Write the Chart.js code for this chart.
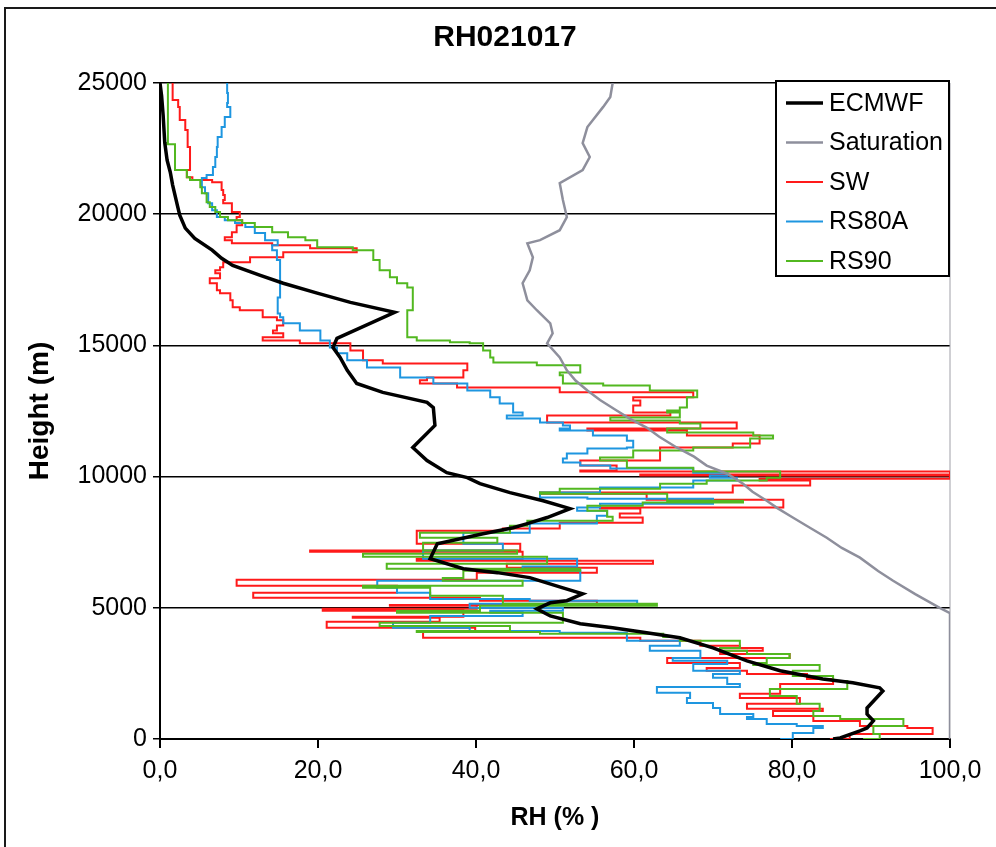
<!DOCTYPE html>
<html>
<head>
<meta charset="utf-8">
<title>RH021017</title>
<script src="https://cdn.jsdelivr.net/npm/chart.js@4.4.0/dist/chart.umd.min.js"></script>
<style>
    html, body { margin: 0; padding: 0; background: #fff; }
    #wrap { width: 996px; height: 847px; }
</style>
</head>
<body>
<div id="wrap"><canvas id="rhChart" width="996" height="847"></canvas></div>
<script>
// [RH %, height m]
const ecmwf = [[0.0,25000],[0.2,24520],[0.4,23760],[0.6,22730],[0.9,22060],[1.3,21600],[1.6,21110],[2.2,20340],[2.5,19960],[3.2,19470],[4.4,19080],[6.6,18630],[7.8,18320],[9.2,18050],[12.7,17670],[15.6,17370],[19.9,16990],[24.1,16640],[29.7,16260],[22.4,15270],[21.9,14920],[22.8,14540],[23.7,14050],[24.9,13550],[28.2,13210],[33.8,12830],[34.6,12630],[34.8,11950],[32.0,11110],[33.8,10610],[36.3,10150],[38.9,9960],[40.5,9730],[44.3,9390],[48.5,9080],[51.9,8780],[49.0,8440],[46.5,8210],[44.7,8050],[40.9,7820],[35.1,7440],[34.2,6870],[38.4,6490],[42.7,6340],[46.8,6150],[51.0,5760],[53.5,5530],[51.5,5270],[49.4,5190],[47.7,4960],[49.4,4690],[53.2,4390],[57.3,4240],[61.6,4050],[65.8,3860],[70.0,3470],[74.3,2980],[78.5,2600],[83.9,2290],[87.7,2140],[91.1,1950],[91.5,1830],[89.5,1180],[89.5,950],[90.3,690],[89.5,420],[88.6,310],[86.1,40],[85.2,0]];

const saturation = [[100,0],[100,4800],[98.7,5000],[95.6,5520],[92.8,6030],[90.9,6400],[88.6,6910],[86.3,7280],[84.4,7670],[82.0,8100],[80.1,8440],[78.2,8790],[76.8,9080],[75.0,9420],[73.8,9730],[71.8,10110],[69.2,10420],[67.6,10760],[65.4,11110],[63.2,11520],[61.6,11870],[59.5,12200],[57.8,12520],[55.7,12920],[54.1,13280],[52.6,13660],[51.5,14050],[50.6,14540],[49.0,15080],[49.7,15460],[49.4,15840],[47.7,16340],[46.5,16720],[45.9,17370],[46.8,17860],[47.2,18360],[46.5,18890],[48.1,19010],[50.6,19390],[51.5,19890],[51.0,20540],[50.6,21180],[53.5,21680],[54.4,22180],[53.5,22710],[54.1,23320],[54.8,23590],[56.1,24090],[57.0,24470],[57.3,25000]];

const sw = [[1.6,25000],[1.6,24620],[2.3,24350],[2.5,24090],[3.2,23590],[3.5,23210],[3.8,22560],[3.8,22060],[3.4,21680],[4.1,21410],[6.6,21300],[7.8,21220],[8.0,20920],[8.2,20730],[8.0,20540],[9.1,20420],[10.1,20080],[9.7,19890],[10.4,19770],[9.7,19580],[9.1,19310],[8.2,19120],[9.1,19010],[14.2,18890],[19.0,18820],[24.9,18700],[15.6,18550],[11.4,18360],[8.0,18170],[7.6,17980],[7.0,17860],[7.6,17750],[6.3,17560],[7.2,17370],[7.6,17100],[8.9,16990],[9.2,16720],[10.1,16450],[13.0,16340],[14.8,16070],[15.6,15960],[14.8,15760],[14.3,15570],[15.6,15460],[13.0,15310],[17.7,15190],[24.1,15080],[25.7,14810],[28.2,14430],[38.9,14310],[38.4,14050],[33.8,13780],[32.9,13670],[37.6,13550],[50.6,13400],[67.5,13210],[59.9,13020],[60.8,12900],[59.9,12710],[64.6,12440],[49.0,12330],[73.0,12060],[54.1,11830],[66.7,11760],[75.9,11570],[72.5,11260],[63.3,11110],[53.2,10610],[57.8,10420],[53.2,10230],[100,10190],[100,10110],[60.8,10080],[100,10040],[100,9960],[75.9,9920],[82.3,9850],[72.5,9660],[48.1,9390],[61.6,9350],[78.9,9120],[55.7,8820],[60.8,8780],[58.2,8590],[61.1,8440],[50.6,8240],[43.4,8020],[32.5,7940],[45.6,7440],[19.0,7180],[45.9,7140],[32.5,6870],[62.4,6790],[43.9,6680],[55.3,6530],[40.1,6340],[9.7,6070],[30.0,5840],[11.8,5570],[40.5,5380],[55.3,5270],[29.1,5110],[40.1,5080],[20.6,4960],[38.4,4890],[24.4,4660],[35.4,4620],[21.1,4470],[39.9,4240],[33.3,4120],[60.8,3860],[68.4,3740],[73.4,3550],[76.3,3470],[70.9,3360],[79.7,3240],[64.2,3090],[73.4,2900],[69.2,2710],[74.3,2600],[81.9,2480],[85.2,2290],[78.5,2100],[73.4,1720],[81.0,1560],[74.3,1340],[83.9,1150],[77.6,1070],[82.7,880],[88.6,690],[94.6,500],[97.8,420],[87.3,190],[84.8,0]];

const rs80a = [[8.5,25000],[8.6,24620],[8.5,24240],[8.9,24090],[8.2,23700],[7.8,23320],[7.3,22940],[7.2,22560],[7.0,22180],[6.7,21800],[5.9,21490],[5.3,21380],[5.7,21030],[6.1,20800],[6.6,20420],[7.2,20150],[8.2,19890],[9.5,19770],[10.8,19660],[12.0,19510],[13.3,19280],[14.9,19010],[14.2,18820],[14.8,18630],[15.2,18250],[15.2,17480],[14.9,16830],[15.2,16220],[15.6,16070],[17.7,15840],[20.3,15570],[21.5,15190],[22.4,14920],[23.7,14700],[26.2,14430],[30.4,14160],[34.6,13780],[38.9,13550],[41.8,13280],[43.0,13020],[44.7,12790],[45.9,12440],[43.9,12330],[48.1,12210],[51.0,12060],[51.9,11950],[50.6,11830],[54.8,11760],[59.1,11570],[59.9,11370],[59.1,11110],[54.1,11070],[51.5,10880],[51.0,10690],[53.2,10540],[57.0,10420],[67.5,10310],[71.8,10150],[69.6,10040],[73.0,9960],[67.5,9850],[55.7,9580],[48.1,9390],[54.1,9200],[70.0,9160],[55.7,8970],[52.8,8820],[56.6,8700],[55.3,8510],[46.8,8210],[38.4,7860],[43.4,7440],[33.3,7180],[52.8,6870],[45.9,6570],[53.2,6410],[27.5,6030],[30.0,5760],[34.2,5570],[46.8,5340],[60.4,5270],[39.2,5150],[51.0,5000],[41.8,4890],[45.9,4810],[34.2,4690],[29.5,4430],[39.2,4240],[50.6,4120],[59.1,4050],[65.8,3740],[62.0,3550],[68.4,3360],[64.9,3090],[71.8,2980],[67.5,2860],[73.4,2600],[70.0,2480],[71.8,2330],[73.4,2100],[62.9,1980],[67.1,1760],[66.7,1560],[70.0,1370],[70.9,1180],[75.1,950],[74.3,840],[76.8,760],[80.6,570],[83.9,500],[82.7,420],[80.1,230],[78.5,0]];

const rs90 = [[1.0,25000],[1.0,23860],[0.9,22710],[1.9,22670],[1.9,21760],[3.4,21680],[3.8,21410],[5.1,21300],[5.3,21030],[5.9,20800],[6.3,20460],[7.0,20270],[7.6,20080],[8.6,19890],[10.4,19770],[12.0,19660],[14.2,19510],[16.2,19310],[18.4,19120],[19.9,19010],[24.4,18740],[27.0,18630],[27.8,18250],[29.1,17860],[30.0,17600],[31.3,17370],[32.0,17210],[32.0,16450],[31.3,16340],[31.3,15570],[32.5,15310],[36.7,15190],[39.2,15120],[40.9,15080],[41.8,14810],[42.2,14540],[47.7,14350],[53.2,14240],[50.6,13970],[51.0,13860],[56.1,13550],[62.0,13470],[68.0,13280],[66.7,13020],[65.8,12630],[64.2,12520],[65.8,12440],[57.0,12250],[65.8,12140],[68.4,12020],[64.2,11830],[75.1,11680],[77.6,11570],[74.7,11450],[67.5,11110],[59.9,10990],[55.7,10730],[59.1,10610],[67.5,10340],[78.5,10190],[76.8,9960],[69.2,9850],[63.3,9730],[50.6,9540],[48.1,9390],[64.2,9350],[73.8,9080],[61.1,9010],[54.1,8890],[56.6,8700],[57.3,8470],[46.5,8320],[44.3,8130],[32.9,7860],[42.7,7670],[33.3,7480],[45.2,7180],[25.7,7060],[49.0,6950],[28.7,6680],[53.2,6490],[38.4,6410],[35.8,6140],[45.9,6030],[25.7,5840],[34.2,5760],[43.4,5460],[62.9,5150],[40.5,5080],[30.0,4890],[51.0,4810],[27.8,4430],[44.3,4310],[32.5,4120],[48.1,4080],[63.7,4010],[65.8,3890],[73.4,3740],[70.9,3470],[74.3,3360],[79.7,3240],[76.8,3090],[75.1,2900],[83.5,2820],[80.1,2600],[85.2,2400],[87.0,2210],[77.2,1910],[80.6,1640],[83.5,1340],[82.7,1070],[86.1,880],[94.1,760],[90.3,500],[91.1,190],[89.0,0]];

const seriesNames = ['ECMWF', 'Saturation', 'SW', 'RS80A', 'RS90'];
const rhTicks = [0, 20, 40, 60, 80, 100];
const heightTicks = [0, 5000, 10000, 15000, 20000, 25000];

const FONT = '"Liberation Sans", Arial, sans-serif';

function toPoints(pairs) {
    return pairs.map(p => ({ x: p[0], y: p[1] }));
}

// outer frame + plot title drawn on the canvas
const pageFrame = {
    id: 'pageFrame',
    beforeDraw(chart) {
        const ctx = chart.ctx;
        ctx.save();
        ctx.fillStyle = '#fff';
        ctx.fillRect(0, 0, chart.width, chart.height);
        ctx.strokeStyle = '#1a1a1a';
        ctx.lineWidth = 2;
        ctx.beginPath();
        ctx.moveTo(5, chart.height);
        ctx.lineTo(5, 8);
        ctx.lineTo(chart.width, 8);
        ctx.stroke();
        ctx.fillStyle = '#000';
        ctx.font = 'bold 30px ' + FONT;
        ctx.textAlign = 'center';
        ctx.textBaseline = 'middle';
        ctx.fillText('RH021017', 505, 38);
        ctx.restore();
    },
    beforeDatasetsDraw(chart) {
        const a = chart.chartArea;
        const ctx = chart.ctx;
        ctx.save();
        ctx.strokeStyle = '#a0a0a8';
        ctx.lineWidth = 1;
        ctx.beginPath();
        ctx.moveTo(a.right, a.top);
        ctx.lineTo(a.right, a.bottom);
        ctx.stroke();
        ctx.restore();
    }
};

// boxed legend sitting inside the plot, top right
const boxLegend = {
    id: 'boxLegend',
    afterDraw(chart) {
        const ctx = chart.ctx;
        const left = 776, top = 81, w = 173, h = 195;
        ctx.save();
        ctx.fillStyle = '#fff';
        ctx.fillRect(left, top, w, h);
        ctx.strokeStyle = '#000';
        ctx.lineWidth = 2;
        ctx.strokeRect(left, top, w, h);
        ctx.font = '25px ' + FONT;
        ctx.textBaseline = 'middle';
        chart.data.datasets.forEach((ds, i) => {
            const y = 103 + i * 39.5;
            ctx.strokeStyle = ds.borderColor;
            ctx.lineWidth = ds.borderWidth;
            ctx.beginPath();
            ctx.moveTo(786, y);
            ctx.lineTo(823, y);
            ctx.stroke();
            ctx.fillStyle = '#000';
            ctx.fillText(ds.label, 829, y + 1);
        });
        ctx.restore();
    }
};

const colours = ['#000000', '#8e8f9c', '#ff1a1a', '#1e96e0', '#52b820'];
const widths = [3.5, 2.5, 2, 2, 2];
const drawOrder = [0, 1, 4, 3, 2];
const allSeries = [ecmwf, saturation, sw, rs80a, rs90];

const datasets = allSeries.map((s, i) => ({
    label: seriesNames[i],
    data: toPoints(s),
    showLine: true,
    borderColor: colours[i],
    backgroundColor: colours[i],
    borderWidth: widths[i],
    pointRadius: 0,
    tension: 0,
    stepped: i >= 2 ? 'after' : false,
    order: drawOrder[i]
}));

new Chart(document.getElementById('rhChart'), {
    type: 'scatter',
    data: { datasets: datasets },
    options: {
        responsive: false,
        animation: false,
        layout: { padding: { left: 0, right: 46, top: 83, bottom: 0 } },
        scales: {
            x: {
                type: 'linear',
                min: 0,
                max: 100,
                afterFit: scale => { scale.height = 108; },
                afterBuildTicks: scale => { scale.ticks = rhTicks.map(v => ({ value: v })); },
                ticks: {
                    color: '#000',
                    font: { family: FONT, size: 25 },
                    padding: 8,
                    maxRotation: 0,
                    callback: v => v.toFixed(1).replace('.', ',')
                },
                grid: { drawOnChartArea: false, drawTicks: true, tickLength: 9, color: '#000', lineWidth: 2 },
                border: { color: '#000', width: 2 },
                title: {
                    display: true,
                    text: 'RH (% )',
                    color: '#000',
                    font: { family: FONT, size: 25, weight: 'bold' },
                    padding: { top: 0, bottom: 14 }
                }
            },
            y: {
                type: 'linear',
                min: 0,
                max: 25000,
                afterFit: scale => { scale.width = 160; },
                afterBuildTicks: scale => { scale.ticks = heightTicks.map(v => ({ value: v })); },
                ticks: {
                    color: '#000',
                    font: { family: FONT, size: 25 },
                    padding: 6,
                    callback: v => String(v)
                },
                grid: { color: '#000', lineWidth: 1.5, tickLength: 7 },
                border: { color: '#000', width: 2 },
                title: {
                    display: true,
                    text: 'Height (m)',
                    color: '#000',
                    font: { family: FONT, size: 28, weight: 'bold' },
                    padding: { top: 23, bottom: 0 }
                }
            }
        },
        plugins: {
            legend: { display: false },
            title: { display: false },
            tooltip: { enabled: false }
        }
    },
    plugins: [pageFrame, boxLegend]
});
</script>
</body>
</html>
